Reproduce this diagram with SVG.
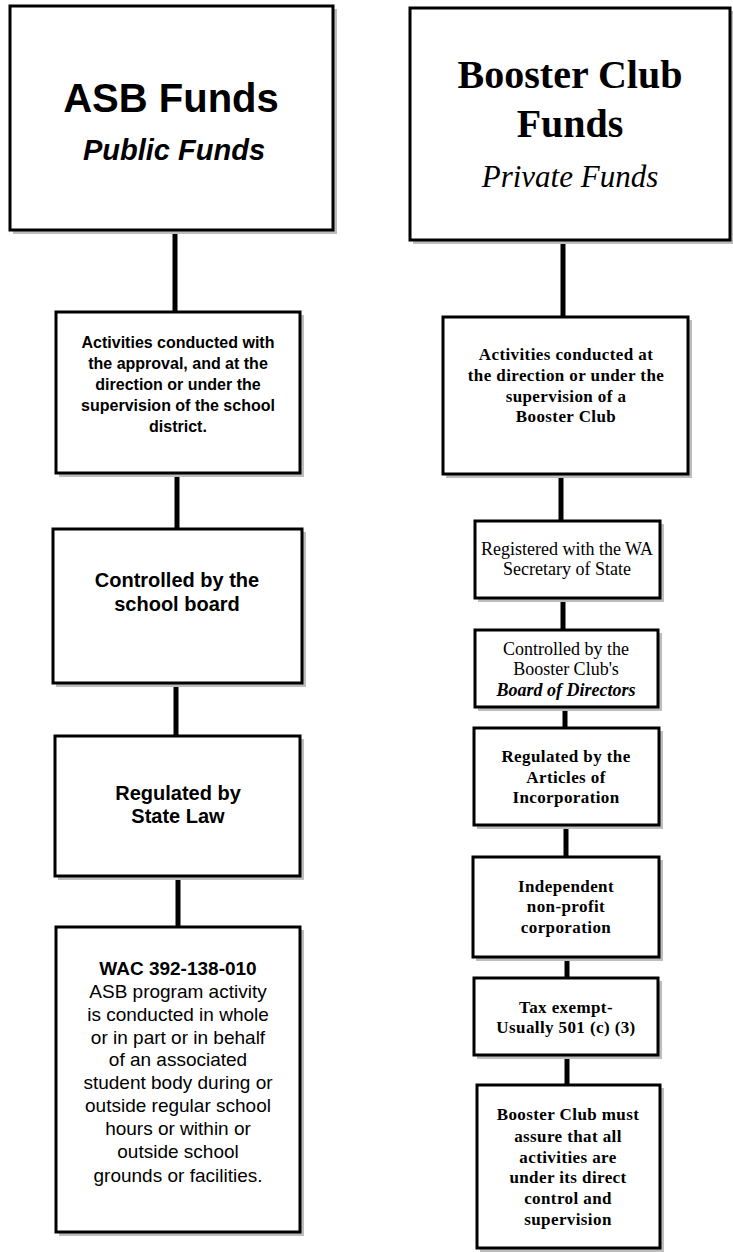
<svg xmlns="http://www.w3.org/2000/svg" width="733" height="1252" viewBox="0 0 733 1252">
<style>
.shadow{fill:#bdbdbd}
.box{fill:#ffffff;stroke:#000000;stroke-width:3}
.conn{stroke:#000000;stroke-width:5;fill:none}
.sans{font-family:"Liberation Sans",Arial,sans-serif;fill:#000000;text-anchor:middle}
.serif{font-family:"Liberation Serif","Times New Roman",serif;fill:#000000;text-anchor:middle}
.b{font-weight:bold}
.i{font-style:italic}
.s16{font-size:16px}
.s17{font-size:17px;letter-spacing:0.4px}
.s18{font-size:18px}
.s19{font-size:19px}
.s20{font-size:20px}
</style>
<rect width="733" height="1252" fill="#ffffff"/>

<g id="connectors">
  <line class="conn" x1="175" y1="230" x2="175" y2="312"/>
  <line class="conn" x1="177" y1="473" x2="177" y2="529"/>
  <line class="conn" x1="176" y1="683" x2="176" y2="736"/>
  <line class="conn" x1="178" y1="876" x2="178" y2="927"/>
  <line class="conn" x1="563" y1="240" x2="563" y2="317"/>
  <line class="conn" x1="561" y1="474" x2="561" y2="521"/>
  <line class="conn" x1="563" y1="598" x2="563" y2="630"/>
  <line class="conn" x1="565" y1="707" x2="565" y2="728"/>
  <line class="conn" x1="566" y1="825" x2="566" y2="857"/>
  <line class="conn" x1="567" y1="957" x2="567" y2="978"/>
  <line class="conn" x1="567" y1="1055" x2="567" y2="1085"/>
</g>

<g id="asb-funds">
  <rect class="shadow" x="13" y="9" width="324" height="225"/>
  <rect class="box" x="10" y="6" width="323" height="224"/>
  <text class="sans b" x="171" y="112" font-size="40">ASB Funds</text>
  <text class="sans b i" x="174" y="160" font-size="29">Public Funds</text>
</g>

<g id="asb-activities">
  <rect class="shadow" x="59" y="315" width="245" height="162"/>
  <rect class="box" x="56" y="312" width="244" height="161"/>
  <text class="sans b s16" x="178" y="348">Activities conducted with</text>
  <text class="sans b s16" x="178" y="369">the approval, and at the</text>
  <text class="sans b s16" x="178" y="390">direction or under the</text>
  <text class="sans b s16" x="178" y="411">supervision of the school</text>
  <text class="sans b s16" x="178" y="432">district.</text>
</g>

<g id="asb-controlled">
  <rect class="shadow" x="56" y="532" width="250" height="155"/>
  <rect class="box" x="53" y="529" width="249" height="154"/>
  <text class="sans b s20" x="177" y="587">Controlled by the</text>
  <text class="sans b s20" x="177" y="611">school board</text>
</g>

<g id="asb-regulated">
  <rect class="shadow" x="58" y="739" width="246" height="141"/>
  <rect class="box" x="55" y="736" width="245" height="140"/>
  <text class="sans b s20" x="178" y="800">Regulated by</text>
  <text class="sans b s20" x="178" y="823">State Law</text>
</g>

<g id="asb-wac">
  <rect class="shadow" x="59" y="930" width="245" height="306"/>
  <rect class="box" x="56" y="927" width="244" height="305"/>
  <text class="sans b s19" x="178" y="975">WAC 392-138-010</text>
  <text class="sans s19" x="178" y="998">ASB program activity</text>
  <text class="sans s19" x="178" y="1021">is conducted in whole</text>
  <text class="sans s19" x="178" y="1044">or in part or in behalf</text>
  <text class="sans s19" x="178" y="1066">of an associated</text>
  <text class="sans s19" x="178" y="1089">student body during or</text>
  <text class="sans s19" x="178" y="1112">outside regular school</text>
  <text class="sans s19" x="178" y="1135">hours or within or</text>
  <text class="sans s19" x="178" y="1158">outside school</text>
  <text class="sans s19" x="178" y="1182">grounds or facilities.</text>
</g>

<g id="booster-funds">
  <rect class="shadow" x="413" y="11" width="322" height="233"/>
  <rect class="box" x="410" y="8" width="320" height="232"/>
  <text class="serif b" x="570" y="88" font-size="40">Booster Club</text>
  <text class="serif b" x="570" y="137" font-size="40">Funds</text>
  <text class="serif i" x="570" y="187" font-size="31">Private Funds</text>
</g>

<g id="booster-activities">
  <rect class="shadow" x="446" y="320" width="246" height="158"/>
  <rect class="box" x="443" y="317" width="245" height="157"/>
  <text class="serif b s17" x="566" y="360">Activities conducted at</text>
  <text class="serif b s17" x="566" y="381">the direction or under the</text>
  <text class="serif b s17" x="566" y="402">supervision of a</text>
  <text class="serif b s17" x="566" y="422">Booster Club</text>
</g>

<g id="booster-registered">
  <rect class="shadow" x="478" y="524" width="186" height="78"/>
  <rect class="box" x="475" y="521" width="185" height="77"/>
  <text class="serif s18" x="567" y="555">Registered with the WA</text>
  <text class="serif s18" x="567" y="575">Secretary of State</text>
</g>

<g id="booster-controlled">
  <rect class="shadow" x="478" y="633" width="184" height="78"/>
  <rect class="box" x="475" y="630" width="183" height="77"/>
  <text class="serif s18" x="566" y="655">Controlled by the</text>
  <text class="serif s18" x="566" y="675">Booster Club's</text>
  <text class="serif b i s18" x="566" y="696">Board of Directors</text>
</g>

<g id="booster-regulated">
  <rect class="shadow" x="477" y="731" width="186" height="98"/>
  <rect class="box" x="474" y="728" width="185" height="97"/>
  <text class="serif b s17" x="566" y="762">Regulated by the</text>
  <text class="serif b s17" x="566" y="783">Articles of</text>
  <text class="serif b s17" x="566" y="803">Incorporation</text>
</g>

<g id="booster-nonprofit">
  <rect class="shadow" x="476" y="860" width="187" height="101"/>
  <rect class="box" x="473" y="857" width="186" height="100"/>
  <text class="serif b s17" x="566" y="892">Independent</text>
  <text class="serif b s17" x="566" y="912">non-profit</text>
  <text class="serif b s17" x="566" y="933">corporation</text>
</g>

<g id="booster-tax">
  <rect class="shadow" x="477" y="981" width="185" height="78"/>
  <rect class="box" x="474" y="978" width="184" height="77"/>
  <text class="serif b s17" x="566" y="1013">Tax exempt-</text>
  <text class="serif b s17" x="566" y="1033">Usually 501 (c) (3)</text>
</g>

<g id="booster-assure">
  <rect class="shadow" x="480" y="1088" width="184" height="164"/>
  <rect class="box" x="477" y="1085" width="183" height="163"/>
  <text class="serif b s17" x="568" y="1120">Booster Club must</text>
  <text class="serif b s17" x="568" y="1142">assure that all</text>
  <text class="serif b s17" x="568" y="1163">activities are</text>
  <text class="serif b s17" x="568" y="1183">under its direct</text>
  <text class="serif b s17" x="568" y="1204">control and</text>
  <text class="serif b s17" x="568" y="1225">supervision</text>
</g>
</svg>
